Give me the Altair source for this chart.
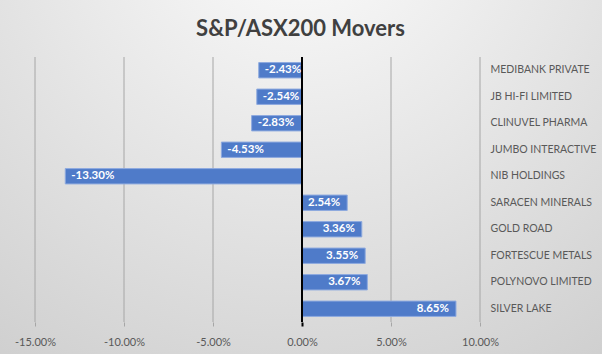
import altair as alt
import pandas as pd

companies = ["MEDIBANK PRIVATE", "JB HI-FI LIMITED", "CLINUVEL PHARMA", "JUMBO INTERACTIVE",
             "NIB HOLDINGS", "SARACEN MINERALS", "GOLD ROAD", "FORTESCUE METALS",
             "POLYNOVO LIMITED", "SILVER LAKE"]
changes = [-2.43, -2.54, -2.83, -4.53, -13.30, 2.54, 3.36, 3.55, 3.67, 8.65]
x_ticks = [-15, -10, -5, 0, 5, 10]
grid_vals = [-15, -10, -5, 5, 10]

df = pd.DataFrame({"company": companies, "change": changes})
df["label"] = [f"{v:.2f}%" for v in changes]

FONT = "Lato"
GRID = "#a6a6a6"
TXT = "#595959"

x_scale = alt.Scale(domain=[-15, 10], nice=False)
x_axis = alt.Axis(
    values=x_ticks, title=None, domain=False, grid=False, zindex=1, labelFlush=False,
    tickColor=alt.expr("datum.value === 0 ? 'black' : '" + GRID + "'"),
    tickWidth=alt.expr("datum.value === 0 ? 2 : 1"),
    tickSize=4, labelPadding=10, labelFont=FONT, labelFontSize=11, labelColor=TXT,
    labelExpr="replace(format(datum.value, '.2f'), '\u2212', '-') + '%'",
)
y_enc = alt.Y(
    "company:N", sort=companies,
    scale=alt.Scale(paddingInner=0.42, paddingOuter=0.21),
    axis=alt.Axis(orient="right", title=None, domain=False, ticks=False, grid=False, zindex=1,
                  labelPadding=10, labelAlign="left", labelFont=FONT, labelFontSize=10.5,
                  labelColor=TXT),
)

bg = alt.Chart(alt.Data(values=[{}])).mark_rect(
    clip=False,
    fill={"gradient": "radial", "x1": 0.5, "y1": 0.05, "r1": 0,
          "x2": 0.5, "y2": 0.05, "r2": 0.95,
          "stops": [{"offset": 0, "color": "#fdfdfd"}, {"offset": 1, "color": "#cdcdcd"}]},
).encode(x=alt.value(-35), x2=alt.value(567), y=alt.value(-57), y2=alt.value(297))

grid = alt.Chart(pd.DataFrame({"g": grid_vals})).mark_rule(color=GRID, strokeWidth=1).encode(
    x=alt.X("g:Q", scale=x_scale)
)

base = alt.Chart(df)

bars = base.mark_bar(color="#4f7bc9", stroke="#8eaadf", strokeWidth=1).encode(
    x=alt.X("change:Q", scale=x_scale, axis=x_axis),
    x2=alt.datum(0),
    y=y_enc,
)

zero = alt.Chart(pd.DataFrame({"z": [0]})).mark_rule(color="black", strokeWidth=2).encode(
    x=alt.X("z:Q", scale=x_scale)
)

neg = base.transform_filter("datum.change < 0").mark_text(
    align="left", dx=6, color="white", font=FONT, fontWeight="bold", fontSize=11.5
).encode(x="change:Q", y=alt.Y("company:N", sort=companies), text="label:N")

pos = base.transform_filter("datum.change > 0").mark_text(
    align="right", dx=-7, color="white", font=FONT, fontWeight="bold", fontSize=11.5
).encode(x="change:Q", y=alt.Y("company:N", sort=companies), text="label:N")

chart = alt.layer(bg, grid, bars, zero, neg, pos).properties(
    width=445, height=265,
    title=alt.Title("S&P/ASX200 Movers", font=FONT, fontSize=22, fontWeight="bold",
                    color="#404040", anchor="middle", dx=43, offset=0, dy=41),
    autosize=alt.AutoSizeParams(type="none"),
    padding={"left": 35, "top": 57, "right": 122, "bottom": 32},
    background="#d6d6d6",
).configure_view(stroke=None)

chart.save("out.html", embed_options={"renderer": "svg", "actions": False})
